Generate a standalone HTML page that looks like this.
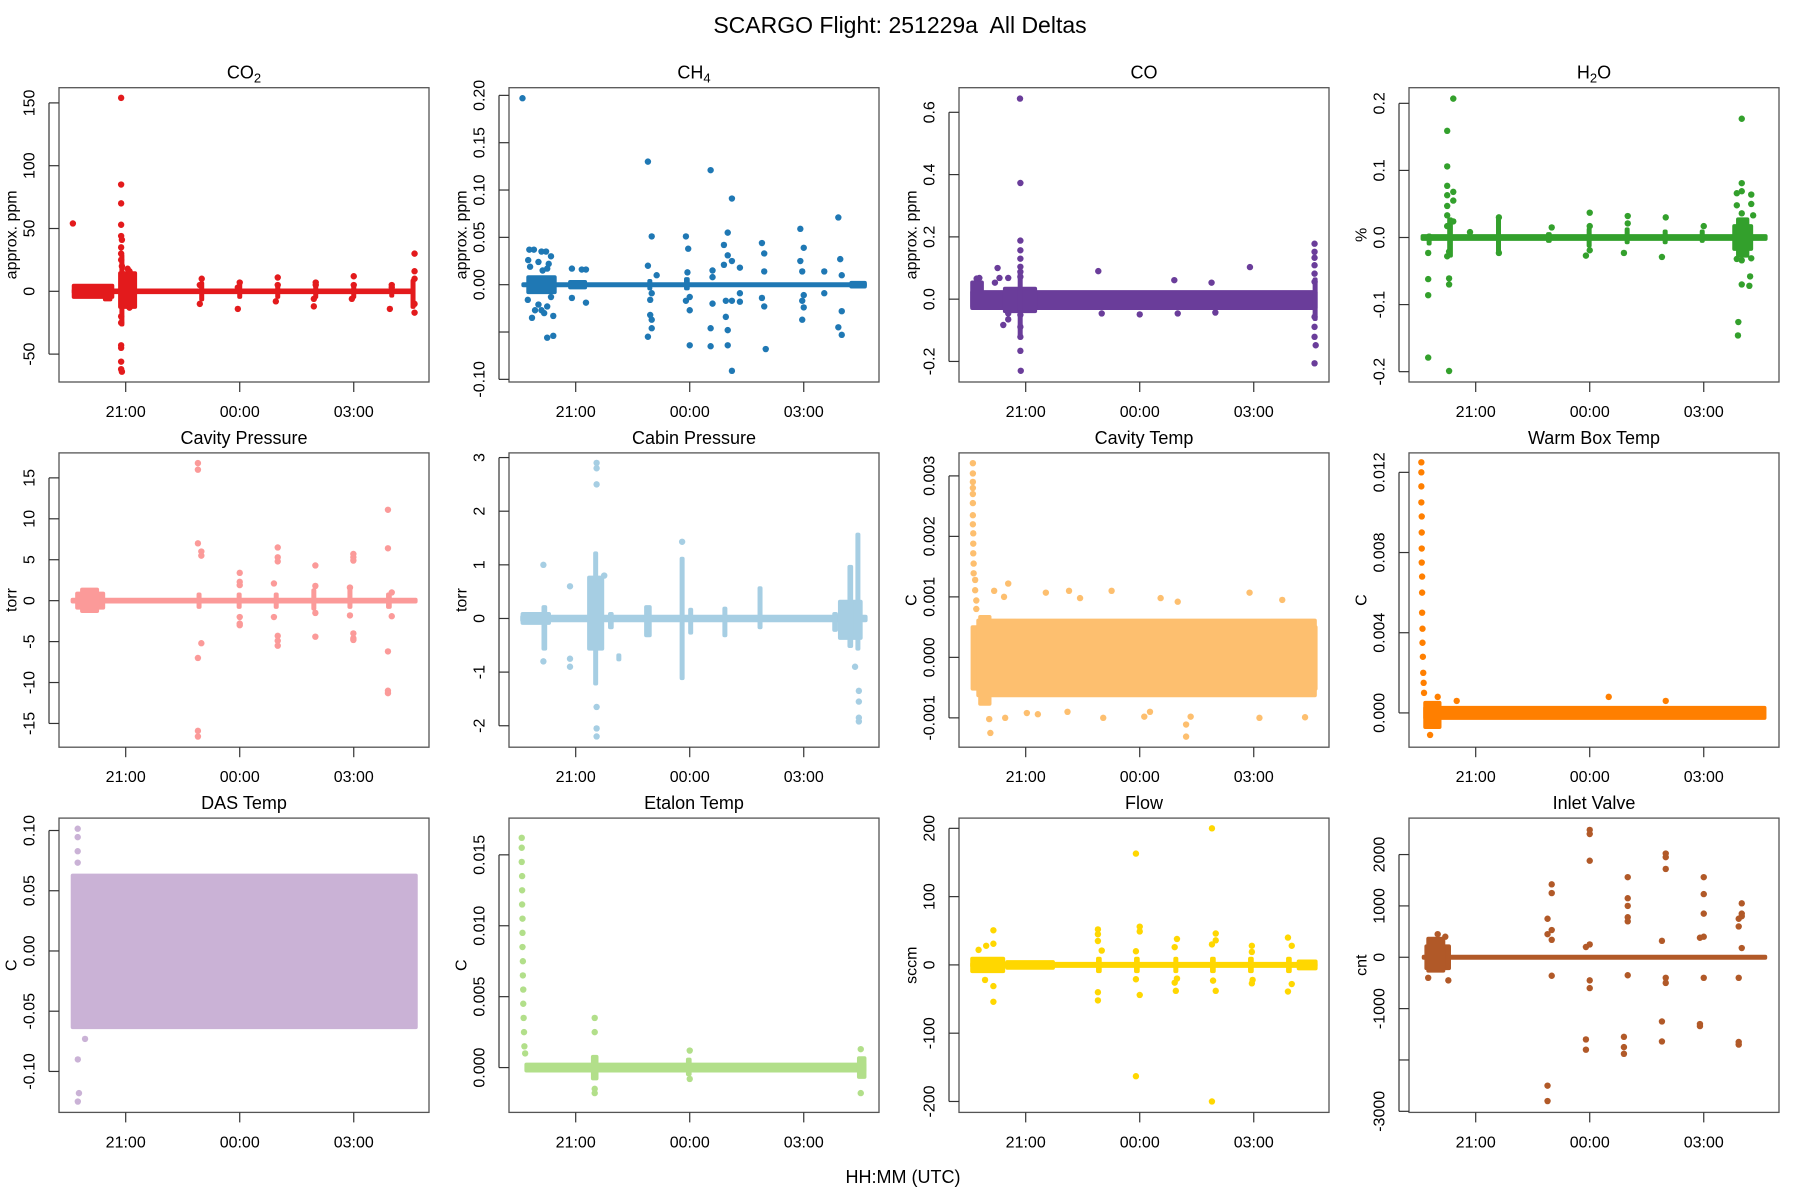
<!DOCTYPE html>
<html><head><meta charset="utf-8"><title>SCARGO Flight 251229a All Deltas</title>
<style>
html,body{margin:0;padding:0;background:#fff;}
svg{display:block;font-family:"Liberation Sans",Arial,sans-serif;}
</style></head>
<body>
<svg id="fig" width="1800" height="1200" viewBox="0 0 1800 1200">
<text x="900" y="33" text-anchor="middle" font-size="23" fill="#000" style="white-space:pre">SCARGO Flight: 251229a  All Deltas</text>
<text x="903" y="1183" text-anchor="middle" font-size="18" fill="#000">HH:MM (UTC)</text>
</svg>
<script>
// ---- shared time axis (hours relative to 21:00 UTC) ----
const timeDomain = [-1.755, 7.98];
const timeTicks = [0, 3, 6];
const timeTickLabels = ["21:00", "00:00", "03:00"];

// ---- CO2 ----
const co2Bands = [[-1.42,7.62,-2.2,2.2],[-1.42,-0.3,-6,6],[-0.6,-0.35,-8,4],[-0.2,0.3,-14,16],[-0.15,-0.05,-28,30],[7.5,7.62,-14,10],[1.95,2.05,-8,8],[2.95,3.05,-6,7],[3.95,4.05,-6,7],[4.95,5.05,-6,6],[5.95,6.05,-6,6],[6.95,7.05,-5,5]];
const co2Pts = [[-1.39,54],[-0.12,154],[-0.12,85],[-0.12,70],[-0.12,53],[-0.12,44],[-0.1,41],[-0.12,35],[-0.12,30],[-0.12,25],[-0.1,20],[-0.12,-20],[-0.12,-25],[-0.12,-43],[-0.12,-45],[-0.12,-56],[-0.12,-62],[-0.1,-64],[0.05,18],[0.1,16],[0.1,-13],[2.0,10],[1.95,5],[1.95,-10],[3.0,7],[2.95,3],[2.95,-14],[4.0,11],[4.0,5],[3.95,-8],[5.0,7],[5.0,5],[4.95,-6],[4.95,-12],[6.0,12],[6.0,5],[5.95,-6],[7.0,5],[7.0,3],[6.95,-14],[7.6,30],[7.6,16],[7.6,10],[7.6,-10],[7.6,-17]];
// ---- CH4 ----
const ch4Bands = [[-1.43,7.66,-0.0025,0.0025],[-1.3,-0.5,-0.01,0.01],[-0.2,0.3,-0.005,0.005],[1.9,2.0,-0.006,0.006],[2.85,3.0,-0.006,0.008],[7.2,7.66,-0.004,0.004]];
const ch4Pts = [[-1.40,0.197],[1.90,0.130],[2.0,0.051],[1.9,0.02],[1.96,-0.032],[2.0,-0.037],[2.0,-0.046],[1.9,-0.055],[1.96,-0.016],[2.0,-0.009],[2.13,0.01],[2.9,0.051],[2.96,0.038],[2.94,0.013],[2.9,-0.017],[3.0,-0.027],[3.0,-0.064],[3.0,-0.013],[3.55,0.121],[3.6,0.015],[3.6,0.008],[3.6,-0.02],[3.55,-0.046],[3.55,-0.065],[4.11,0.091],[4.0,0.055],[3.9,0.042],[4.0,0.031],[3.9,0.021],[4.11,0.025],[3.95,-0.034],[4.0,-0.048],[4.0,-0.064],[4.11,-0.091],[3.95,-0.017],[4.11,-0.017],[4.32,0.018],[4.32,-0.018],[4.32,-0.009],[4.9,0.044],[4.96,0.033],[4.96,0.014],[4.96,-0.023],[5.0,-0.068],[4.9,-0.014],[5.91,0.059],[6.0,0.039],[5.91,0.025],[5.96,0.014],[5.96,-0.017],[6.0,-0.024],[5.96,-0.037],[6.0,-0.011],[6.54,0.014],[6.54,-0.009],[6.91,0.071],[6.96,0.027],[7.0,0.01],[7.0,-0.028],[6.91,-0.045],[7.0,-0.053],[-0.1,0.017],[0.16,0.016],[0.27,0.016],[-0.1,-0.014],[0.27,-0.019],[-0.59,-0.054],[-0.75,-0.056],[-0.59,-0.033],[-1.22,0.037],[-1.1,0.037],[-1.25,0.026],[-0.98,0.024],[-0.9,0.035],[-0.78,0.035],[-0.65,0.03],[-0.71,0.022],[-1.2,0.019],[-0.87,0.015],[-0.75,0.017],[-1.26,-0.016],[-1.15,-0.035],[-0.98,-0.021],[-0.9,-0.027],[-0.83,-0.03],[-0.75,-0.023],[-1.07,-0.027],[-0.65,-0.013]];
// ---- CO ----
const coBands = [[-1.46,7.68,-0.035,0.029],[-1.46,-1.1,-0.03,0.06],[-0.6,0.3,-0.045,0.04],[7.55,7.68,-0.07,0.07],[-0.17,-0.12,-0.12,0.09]];
const coPts = [[-0.15,0.644],[-0.14,0.373],[-0.14,0.188],[-0.14,0.157],[-0.14,0.13],[-0.14,0.104],[-0.14,0.088],[-0.14,0.072],[-0.14,-0.051],[-0.14,-0.089],[-0.14,-0.121],[-0.14,-0.166],[-0.13,-0.23],[-0.74,0.1],[-0.69,0.068],[-0.46,0.068],[-0.81,0.053],[-0.59,-0.083],[-0.46,-0.065],[-0.46,-0.046],[1.91,0.09],[3.91,0.061],[4.89,0.053],[5.9,0.103],[2.0,-0.046],[3.0,-0.049],[4.0,-0.046],[4.99,-0.043],[7.6,0.178],[7.6,0.152],[7.6,0.133],[7.6,0.109],[7.6,0.082],[7.6,0.056],[7.6,-0.057],[7.6,-0.089],[7.6,-0.121],[7.63,-0.148],[7.6,-0.206],[-1.29,0.066],[-1.22,0.068]];
// ---- H2O ----
const h2oBands = [[-1.45,7.68,-0.005,0.005],[-0.75,-0.6,-0.03,0.03],[0.55,0.65,-0.024,0.03],[1.85,2.0,-0.008,0.008],[2.95,3.02,-0.015,0.015],[3.95,4.02,-0.01,0.015],[4.95,5.02,-0.01,0.012],[5.9,6.02,-0.008,0.012],[6.75,7.3,-0.02,0.02],[6.85,7.2,-0.03,0.03],[-1.25,-1.2,-0.012,0.006]];
const h2oPts = [[-1.25,-0.023],[-1.25,-0.062],[-1.25,-0.086],[-1.25,-0.179],[-0.75,0.159],[-0.75,0.106],[-0.75,0.077],[-0.75,0.063],[-0.75,0.047],[-0.75,0.033],[-0.75,0.017],[-0.75,-0.028],[-0.7,-0.061],[-0.7,-0.07],[-0.7,-0.199],[-0.59,0.207],[-0.59,0.068],[-0.59,0.055],[-0.59,0.024],[-0.7,-0.021],[-0.15,0.008],[0.61,0.03],[0.61,-0.023],[2.0,0.015],[3.0,0.037],[3.0,0.017],[3.0,-0.019],[2.9,-0.027],[4.0,0.032],[4.0,0.021],[3.9,-0.023],[5.0,0.03],[4.9,-0.029],[6.0,0.017],[7.0,0.177],[7.0,0.081],[7.0,0.069],[6.87,0.066],[7.25,0.064],[7.25,0.05],[6.87,0.048],[7.3,0.033],[7.0,0.036],[6.87,-0.032],[7.0,-0.034],[7.25,-0.031],[7.22,-0.058],[7.2,-0.072],[7.0,-0.07],[6.91,-0.126],[6.9,-0.146]];
// ---- Cavity Pressure ----
const cpBands = [[-1.45,7.68,-0.35,0.35],[-1.33,-0.54,-1.1,1.1],[-1.2,-0.7,-1.5,1.6],[1.88,1.98,-1,1],[2.95,3.02,-1,1],[3.9,4.02,-1,1],[4.9,5.0,-1.2,1.5],[5.85,5.95,-1,1.5],[6.85,7.0,-1,1]];
const cpPts = [[1.9,16.8],[1.9,16.0],[1.9,7.0],[1.9,-7.0],[1.9,-15.9],[1.9,-16.6],[1.99,6.0],[1.99,5.5],[1.99,-5.2],[3.0,3.4],[3.0,2.3],[3.0,1.9],[3.0,-2.0],[3.0,-2.8],[3.0,-3.0],[3.9,2.1],[3.9,-2.0],[4.0,6.5],[4.0,5.3],[4.0,4.8],[4.0,-4.3],[4.0,-4.9],[4.0,-5.5],[4.99,4.3],[4.99,1.8],[4.99,-4.4],[4.99,-1.5],[5.9,1.6],[5.99,5.7],[5.99,5.3],[5.99,4.9],[5.99,-4.0],[5.99,-4.6],[5.99,-4.8],[5.9,-1.8],[6.9,11.1],[6.9,6.4],[6.9,-6.2],[6.9,-11.0],[6.9,-11.3],[7.0,-1.9],[7.0,1.0]];
// ---- Cabin Pressure ----
const cabBands = [[-1.46,7.68,-0.07,0.07],[-1.45,-0.65,-0.12,0.12],[-0.9,-0.75,-0.6,0.25],[0.3,0.75,-0.6,0.8],[0.5,0.55,-1.25,1.25],[1.12,1.15,-0.8,-0.65],[0.85,1.0,-0.2,0.12],[1.8,2.0,-0.35,0.25],[2.78,2.82,-1.15,1.15],[3.0,3.05,-0.3,0.2],[3.9,3.95,-0.35,0.22],[4.8,4.9,-0.2,0.6],[6.75,6.9,-0.25,0.12],[6.9,7.55,-0.4,0.35],[7.4,7.45,-0.6,1.6],[7.15,7.3,-0.55,1.0]];
const cabPts = [[0.55,2.9],[0.55,2.8],[0.55,2.5],[0.55,-1.65],[0.55,-2.05],[0.55,-2.2],[7.45,-1.35],[7.45,-1.55],[7.45,-1.85],[7.45,-1.92],[2.8,1.43],[-0.85,1.0],[-0.85,-0.8],[-0.15,0.6],[-0.15,-0.75],[-0.15,-0.9],[0.75,0.8],[7.35,-0.9]];
// ---- Cavity Temp ----
const ctBands = [[-1.45,7.68,-0.00055,0.00053],[-1.3,7.66,-0.00066,0.00064],[-1.25,-0.9,-0.0008,0.0007]];
const ctPts = [[-1.39,0.00321],[-1.39,0.00304],[-1.39,0.0029],[-1.39,0.0028],[-1.39,0.0027],[-1.39,0.00255],[-1.39,0.00235],[-1.39,0.0022],[-1.38,0.00205],[-1.38,0.00188],[-1.38,0.00172],[-1.37,0.00155],[-1.37,0.00139],[-1.33,0.00128],[-1.33,0.00111],[-1.3,0.00094],[-1.3,0.0008],[-0.46,0.00122],[-0.83,0.0011],[-0.57,0.001],[0.53,0.00107],[1.14,0.0011],[1.43,0.00098],[2.26,0.0011],[3.55,0.00098],[4.0,0.00092],[5.89,0.00107],[6.75,0.00095],[-0.96,-0.00102],[-0.93,-0.00125],[-0.54,-0.001],[0.03,-0.00092],[0.32,-0.00094],[1.1,-0.0009],[2.04,-0.001],[3.12,-0.00098],[3.27,-0.0009],[4.22,-0.00111],[4.22,-0.00131],[4.34,-0.00098],[6.15,-0.001],[7.35,-0.00099]];
// ---- Warm Box Temp ----
const wbBands = [[-1.38,7.65,-0.00035,0.00035],[-1.38,-0.9,-0.0008,0.0006]];
const wbPts = [[-1.43,0.0125],[-1.43,0.012],[-1.43,0.0113],[-1.43,0.0105],[-1.42,0.0098],[-1.42,0.009],[-1.42,0.0082],[-1.42,0.0075],[-1.41,0.0068],[-1.41,0.006],[-1.41,0.005],[-1.4,0.0042],[-1.4,0.0035],[-1.39,0.0028],[-1.38,0.002],[-1.37,0.0015],[-1.36,0.001],[-1.2,-0.0011],[-1.0,0.0008],[3.5,0.0008],[5.0,0.0006],[-0.5,0.0006]];
// ---- DAS Temp ----
const dasBands = [[-1.447,7.684,-0.0649,0.0642]];
const dasPts = [[-1.263,0.1015],[-1.263,0.0945],[-1.263,0.0828],[-1.263,0.0733],[-1.07,-0.073],[-1.26,-0.09],[-1.23,-0.118],[-1.26,-0.125]];
// ---- Etalon Temp ----
const etBands = [[-1.35,7.65,-0.00035,0.00035],[0.4,0.6,-0.0009,0.0009],[2.9,3.05,-0.0006,0.0007],[7.4,7.65,-0.0008,0.0008]];
const etPts = [[-1.42,0.0162],[-1.42,0.0155],[-1.42,0.0145],[-1.41,0.0135],[-1.41,0.0125],[-1.41,0.0115],[-1.4,0.0105],[-1.4,0.0095],[-1.4,0.0085],[-1.39,0.0075],[-1.39,0.0065],[-1.38,0.0055],[-1.38,0.0045],[-1.37,0.0035],[-1.36,0.0025],[-1.35,0.0015],[-1.33,0.001],[0.5,0.0035],[0.5,0.0025],[0.5,-0.0015],[0.5,-0.0018],[3.0,0.0012],[3.0,-0.0008],[7.5,0.0013],[7.5,-0.0018]];
// ---- Flow ----
const flowBands = [[-1.46,7.68,-4.4,4.4],[-1.46,-0.54,-12,12],[-0.54,0.77,-7,7],[7.13,7.68,-8,8],[1.85,2.0,-12,12],[2.85,3.0,-12,12],[3.9,4.0,-12,12],[4.85,5.0,-12,12],[5.85,6.0,-12,12],[6.85,7.0,-12,12]];
const flowPts = [[-0.85,50.7],[-0.85,31],[-0.85,-31],[-0.85,-54],[-1.04,28],[-1.24,22],[-1.07,-22],[1.9,52],[1.9,45],[1.9,35],[1.9,-40],[1.9,-52],[2.0,21],[2.9,163],[2.9,-163],[3.0,56],[3.0,49],[3.0,-44],[2.9,20],[2.9,-21],[3.98,38],[3.92,26],[3.98,-20],[3.92,-26],[3.95,-38],[4.9,200],[4.9,-200],[5.0,46],[5.0,36],[4.9,30],[5.0,-38],[4.93,-23],[5.95,28],[5.95,19],[5.97,-22],[5.95,-27],[6.9,40],[7.0,28],[7.0,-28],[6.9,-39]];
// ---- Inlet Valve ----
const ivBands = [[-1.42,7.67,-30,30],[-1.35,-0.65,-250,250],[-1.3,-0.8,-300,400]];
const ivPts = [[2.0,1420],[2.0,1250],[1.89,750],[1.89,450],[1.89,-2500],[1.89,-2800],[2.0,530],[2.0,340],[2.0,-360],[2.9,200],[2.9,-1600],[2.9,-1800],[3.0,2480],[3.0,2400],[3.0,1880],[3.0,250],[3.0,-600],[3.0,-450],[3.9,-1550],[3.9,-1750],[3.9,-1880],[4.0,1560],[4.0,1150],[4.0,1000],[4.0,780],[4.0,700],[4.0,-350],[4.9,320],[4.9,-1250],[4.9,-1640],[5.0,2020],[5.0,1950],[5.0,1720],[5.0,-500],[5.0,-400],[5.9,380],[5.9,-1300],[5.9,-1340],[6.0,1560],[6.0,1230],[6.0,850],[6.0,400],[6.0,-400],[6.92,750],[6.92,600],[6.92,-400],[6.92,-1700],[6.92,-1650],[7.0,1050],[7.0,850],[7.0,800],[7.0,180],[-1.25,-400],[-1.0,450],[-0.72,-450],[-0.8,400]];

// y tick values and their printed labels ('' = unlabeled tick)
const co2Ticks=[-50,0,50,100,150], co2Labels=["-50","0","50","100","150"];
const ch4Ticks=[-0.1,-0.05,0,0.05,0.1,0.15,0.2], ch4Labels=["-0.10","","0.00","0.05","0.10","0.15","0.20"];
const coTicks=[-0.2,0,0.2,0.4,0.6], coLabels=["-0.2","0.0","0.2","0.4","0.6"];
const h2oTicks=[-0.2,-0.1,0,0.1,0.2], h2oLabels=["-0.2","-0.1","0.0","0.1","0.2"];
const cpTicks=[-15,-10,-5,0,5,10,15], cpLabels=["-15","-10","-5","0","5","10","15"];
const cabTicks=[-2,-1,0,1,2,3], cabLabels=["-2","-1","0","1","2","3"];
const ctTicks=[-0.001,0,0.001,0.002,0.003], ctLabels=["-0.001","0.000","0.001","0.002","0.003"];
const wbTicks=[0,0.004,0.008,0.012], wbLabels=["0.000","0.004","0.008","0.012"];
const dasTicks=[-0.1,-0.05,0,0.05,0.1], dasLabels=["-0.10","-0.05","0.00","0.05","0.10"];
const etTicks=[0,0.005,0.01,0.015], etLabels=["0.000","0.005","0.010","0.015"];
const flowTicks=[-200,-100,0,100,200], flowLabels=["-200","-100","0","100","200"];
const ivTicks=[-3000,-2000,-1000,0,1000,2000], ivLabels=["-3000","","-1000","0","1000","2000"];

const panels = [
 {id:"co2", title:["CO","2",""], ylab:"approx. ppm", color:"#E31A1C", ylim:[-72.2,162.1], ticks:co2Ticks, labels:co2Labels, bands:co2Bands, pts:co2Pts},
 {id:"ch4", title:["CH","4",""], ylab:"approx. ppm", color:"#1F78B4", ylim:[-0.1028,0.2081], ticks:ch4Ticks, labels:ch4Labels, bands:ch4Bands, pts:ch4Pts},
 {id:"co", title:["CO","",""], ylab:"approx. ppm", color:"#6A3D9A", ylim:[-0.266,0.679], ticks:coTicks, labels:coLabels, bands:coBands, pts:coPts},
 {id:"h2o", title:["H","2","O"], ylab:"%", color:"#33A02C", ylim:[-0.2154,0.2233], ticks:h2oTicks, labels:h2oLabels, bands:h2oBands, pts:h2oPts},
 {id:"cavity-pressure", title:["Cavity Pressure","",""], ylab:"torr", color:"#FB9A99", ylim:[-17.9,18.05], ticks:cpTicks, labels:cpLabels, bands:cpBands, pts:cpPts},
 {id:"cabin-pressure", title:["Cabin Pressure","",""], ylab:"torr", color:"#A6CEE3", ylim:[-2.40,3.087], ticks:cabTicks, labels:cabLabels, bands:cabBands, pts:cabPts},
 {id:"cavity-temp", title:["Cavity Temp","",""], ylab:"C", color:"#FDBF6F", ylim:[-0.001485,0.00338], ticks:ctTicks, labels:ctLabels, bands:ctBands, pts:ctPts},
 {id:"warm-box-temp", title:["Warm Box Temp","",""], ylab:"C", color:"#FF7F00", ylim:[-0.00171,0.01297], ticks:wbTicks, labels:wbLabels, bands:wbBands, pts:wbPts},
 {id:"das-temp", title:["DAS Temp","",""], ylab:"C", color:"#CAB2D6", ylim:[-0.134,0.1103], ticks:dasTicks, labels:dasLabels, bands:dasBands, pts:dasPts},
 {id:"etalon-temp", title:["Etalon Temp","",""], ylab:"C", color:"#B2DF8A", ylim:[-0.00316,0.01759], ticks:etTicks, labels:etLabels, bands:etBands, pts:etPts},
 {id:"flow", title:["Flow","",""], ylab:"sccm", color:"#FFD700", ylim:[-216,215], ticks:flowTicks, labels:flowLabels, bands:flowBands, pts:flowPts},
 {id:"inlet-valve", title:["Inlet Valve","",""], ylab:"cnt", color:"#B15928", ylim:[-3021,2710], ticks:ivTicks, labels:ivLabels, bands:ivBands, pts:ivPts}
];

const NS="http://www.w3.org/2000/svg";
const svg=document.getElementById("fig");
function mk(tag, attrs, parent){const e=document.createElementNS(NS,tag);for(const k in attrs)e.setAttribute(k,attrs[k]);(parent||svg).appendChild(e);return e;}
const W=370, H=294.3, R=3.2;

panels.forEach((p,i)=>{
  const col=i%4, row=Math.floor(i/4);
  const L=59+450*col, T=87.7+365.2*row, B=T+H;
  const xs=t=>L+(t-timeDomain[0])/(timeDomain[1]-timeDomain[0])*W;
  const ys=v=>B-(v-p.ylim[0])/(p.ylim[1]-p.ylim[0])*H;
  const g=mk("g",{});
  
  
  const cp=mk("clipPath",{id:"clip"+i},g);
  mk("rect",{x:L,y:T,width:W,height:H},cp);
  const plot=mk("g",{"clip-path":"url(#clip"+i+")"},g);
  
  
  p.bands.forEach(b=>{
    let x0=xs(b[0]), x1=xs(b[1]), y0=ys(b[3]), y1=ys(b[2]);
    if(x1-x0<5){const m=(x0+x1)/2;x0=m-2.5;x1=m+2.5;}
    if(y1-y0<5){const m=(y0+y1)/2;y0=m-2.5;y1=m+2.5;}
    const r=mk("rect",{x:x0,y:y0,width:x1-x0,height:y1-y0,rx:2,fill:p.color},plot);
    
    
  });
  p.pts.forEach(d=>{
    const c=mk("circle",{cx:xs(d[0]),cy:ys(d[1]),r:R,fill:p.color},plot);
    
    
  });
  const box=mk("rect",{x:L,y:T,width:W,height:H,fill:"none",stroke:"#555",'stroke-width':1.3},g);
  
  
  const tt=mk("text",{x:L+W/2,y:T-9,'text-anchor':'middle','font-size':18,fill:'#000'},g);
  
  
  tt.appendChild(document.createTextNode(p.title[0]));
  if(p.title[1]){const s=mk("tspan",{'font-size':13,dy:4},tt);s.textContent=p.title[1];}
  if(p.title[2]){const s=mk("tspan",{dy:-4},tt);s.textContent=p.title[2];}
  const ax=L-10;
  const yl=mk("line",{x1:ax,x2:ax,y1:ys(p.ticks[0]),y2:ys(p.ticks[p.ticks.length-1]),stroke:'#333','stroke-width':1.2},g);
  
  
  p.ticks.forEach((v,k)=>{
    const y=ys(v);
    mk("line",{x1:ax,x2:L,y1:y,y2:y,stroke:'#333','stroke-width':1.2},g);
    if(p.labels[k]){
      const t=mk("text",{x:0,y:0,transform:`translate(${L-29},${y}) rotate(-90)`,'text-anchor':'middle','dominant-baseline':'central','font-size':16,fill:'#000'},g);
      
      
      t.textContent=p.labels[k];
    }
  });
  const ylab=mk("text",{x:0,y:0,transform:`translate(${L-47},${T+H/2}) rotate(-90)`,'text-anchor':'middle','dominant-baseline':'central','font-size':16,fill:'#000'},g);
  
  
  ylab.textContent=p.ylab;
  timeTicks.forEach((t,k)=>{
    const x=xs(t);
    mk("line",{x1:x,x2:x,y1:B,y2:B+10,stroke:'#333','stroke-width':1.2},g);
    const lb=mk("text",{x:x,y:B+35,'text-anchor':'middle','font-size':16,fill:'#000'},g);
    
    
    lb.textContent=timeTickLabels[k];
  });
});
</script>
</body></html>
